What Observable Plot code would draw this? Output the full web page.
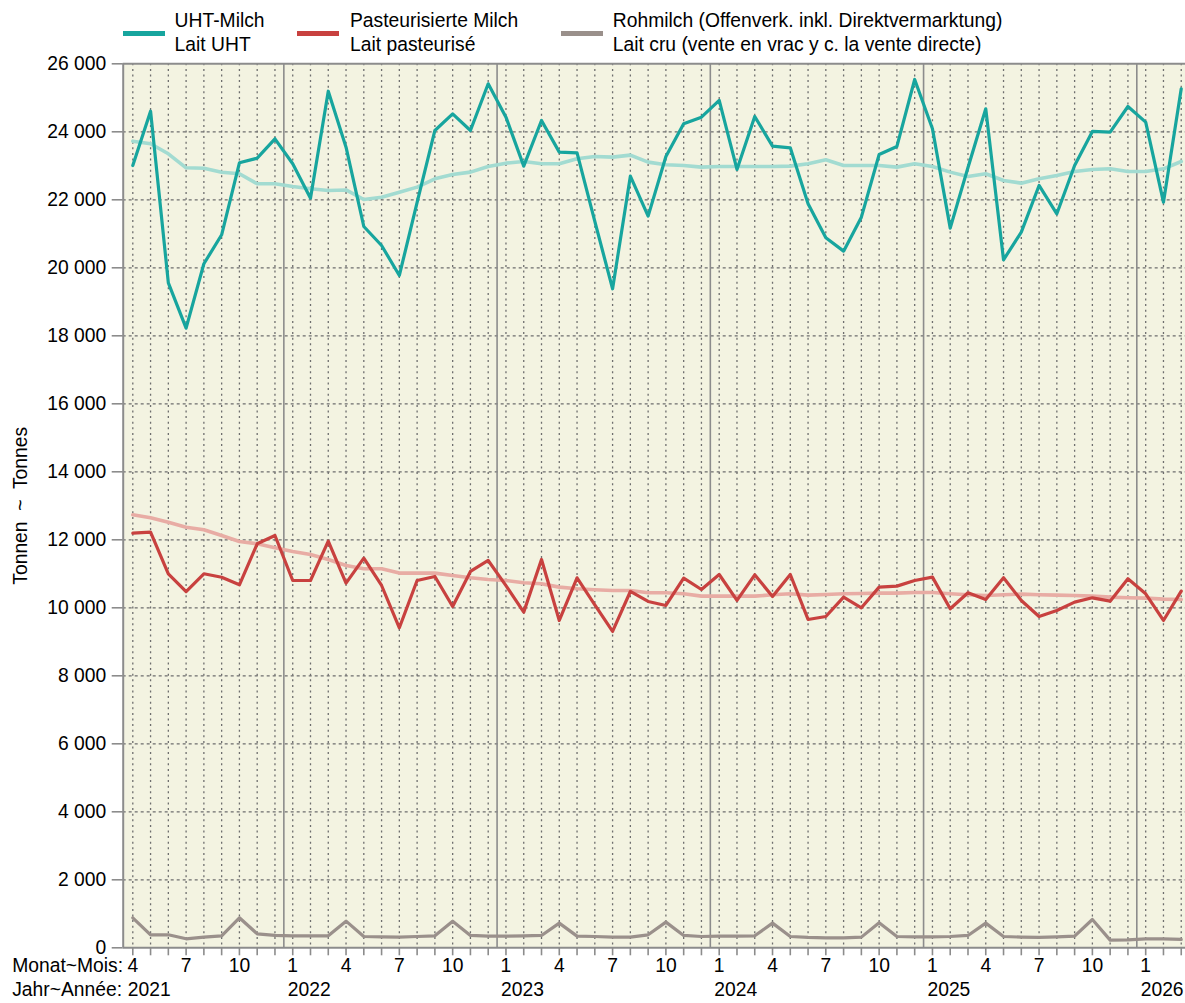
<!DOCTYPE html>
<html>
<head>
<meta charset="utf-8">
<script src="https://cdn.jsdelivr.net/npm/d3@7"></script>
<script src="https://cdn.jsdelivr.net/npm/@observablehq/plot@0.6"></script>
<style>
  html, body { margin: 0; padding: 0; background: #fff; }
  #wrap { position: relative; width: 1185px; height: 1003px; font-family: Arial, "Liberation Sans", sans-serif; color: #000; }
  #wrap svg { position: absolute; left: 0; top: 0; }
  .sw { position: absolute; height: 5.4px; width: 42px; }
  .lt { position: absolute; font-size: 19.3px; line-height: 24px; white-space: nowrap; }
</style>
</head>
<body>
<div id="wrap"></div>
<script>
// ---- Data (tonnes per month), April 2021 .. March 2026 ----
const startYear = 2021;
const startMonth = 4;

const seriesNames = [
  ["UHT-Milch", "Lait UHT"],
  ["Pasteurisierte Milch", "Lait pasteurisé"],
  ["Rohmilch (Offenverk. inkl. Direktvermarktung)", "Lait cru (vente en vrac y c. la vente directe)"]
];
const seriesColors = ["#17a59e", "#c8413f", "#9a908b"];
const trendColors = ["#a2dbd1", "#e8aca4"];

const uhtMilch = [23009, 24606, 19559, 18224, 20118, 20971, 23088, 23224, 23794, 23059, 22047, 25194,
  23547, 21215, 20656, 19775, 21926, 24039, 24529, 24039, 25412, 24431, 22990, 24333,
  23402, 23382, 21363, 19382, 22696, 21520, 23275, 24240, 24431, 24922, 22892, 24451,
  23578, 23529, 21882, 20882, 20490, 21490, 23333, 23569, 25539, 24088, 21167, 22950,
  24676, 20235, 21049, 22422, 21588, 23010, 24010, 23990, 24745, 24284, 21931, 25265];

const uhtTrend = [23724, 23647, 23353, 22941, 22930, 22812, 22765, 22471, 22471, 22391, 22324, 22274,
  22290, 22009, 22077, 22225, 22373, 22618, 22745, 22814, 22980, 23078, 23127, 23059,
  23059, 23206, 23275, 23255, 23314, 23108, 23029, 23010, 22961, 22980, 22980, 22980,
  22980, 22990, 23059, 23176, 23010, 23010, 23010, 22961, 23059, 22980, 22814, 22686,
  22765, 22569, 22490, 22618, 22716, 22833, 22892, 22912, 22833, 22833, 22912, 23127];

const pastMilch = [12194, 12224, 11000, 10479, 11000, 10900, 10676, 11882, 12126, 10803, 10803, 11959,
  10724, 11459, 10656, 9412, 10804, 10922, 10039, 11069, 11392, 10650, 9873, 11422,
  9627, 10882, 10088, 9304, 10480, 10186, 10069, 10873, 10539, 10980, 10216, 10971,
  10333, 10980, 9657, 9745, 10314, 10000, 10608, 10637, 10804, 10902, 9971, 10441,
  10245, 10882, 10216, 9745, 9922, 10167, 10294, 10196, 10853, 10412, 9627, 10490];

const pastTrend = [12735, 12647, 12518, 12371, 12294, 12126, 11950, 11882, 11765, 11656, 11568, 11421,
  11244, 11147, 11147, 11020, 11020, 11020, 10951, 10882, 10833, 10804, 10735, 10706,
  10608, 10559, 10529, 10510, 10510, 10441, 10441, 10412, 10343, 10343, 10343, 10343,
  10382, 10412, 10373, 10392, 10412, 10422, 10431, 10431, 10451, 10451, 10412, 10382,
  10363, 10382, 10402, 10382, 10373, 10363, 10343, 10314, 10294, 10284, 10255, 10245];

const rohMilch = [882, 382, 382, 265, 314, 353, 882, 412, 363, 353, 353, 353,
  784, 333, 324, 314, 333, 353, 784, 363, 343, 343, 353, 363,
  725, 343, 333, 314, 314, 382, 755, 363, 333, 343, 343, 353,
  725, 333, 304, 294, 294, 314, 735, 333, 324, 324, 333, 363,
  725, 333, 314, 304, 324, 343, 833, 225, 235, 265, 265, 245];

const yTicks = [0, 2000, 4000, 6000, 8000, 10000, 12000, 14000, 16000, 18000, 20000, 22000, 24000, 26000];
const labeledMonths = [1, 4, 7, 10];
const axisPrefixes = ["Monat~Mois:", "Jahr~Année:"];
const yTitle = "Tonnen  ~  Tonnes";

// ---- Derived ----
const periods = uhtMilch.map((_, i) => {
  const k = startMonth - 1 + i;
  return { i, month: (k % 12) + 1, year: startYear + Math.floor(k / 12) };
});
const idx = periods.map(p => p.i);
const monthLabelPeriods = periods.filter(p => labeledMonths.includes(p.month));
const yearLabelPeriods = periods.filter(p => p.i === 0 || p.month === 1);
const yearBreaks = periods.filter(p => p.month === 12).map(p => p.i + 0.5);
const xDomain = [-0.54, idx[idx.length - 1] + 0.24];
const fmt = d => d3.format(",")(d).replace(/,/g, " ");

const FS = 19.3;
const gridGray = "#6e6e6e";
const frameGray = "#8c8c8c";

const chart = Plot.plot({
  width: 1185,
  height: 1003,
  marginTop: 63.3,
  marginBottom: 55.7,
  marginLeft: 122.7,
  marginRight: 0,
  style: { fontFamily: 'Arial, "Liberation Sans", sans-serif', fontSize: FS + "px", color: "#000", background: "transparent", overflow: "visible" },
  x: { type: "linear", domain: xDomain, axis: null },
  y: { domain: [0, 26000], axis: null },
  marks: [
    Plot.frame({ fill: "#f3f3e1", stroke: null }),
    Plot.ruleX(idx, { stroke: gridGray, strokeWidth: 1.3, strokeDasharray: "2,3.6" }),
    Plot.ruleY(yTicks.slice(1, -1), { stroke: gridGray, strokeWidth: 1.3, strokeDasharray: "3,3" }),
    Plot.ruleX(yearBreaks, { stroke: frameGray, strokeWidth: 1.6 }),
    Plot.ruleY([yTicks[0], yTicks[yTicks.length - 1]], { stroke: frameGray, strokeWidth: 2 }),
    Plot.ruleX([xDomain[0]], { stroke: frameGray, strokeWidth: 2 }),
    // trend lines
    Plot.line(uhtTrend, { x: (d, i) => i, y: d => d, stroke: trendColors[0], strokeWidth: 3.6 }),
    Plot.line(pastTrend, { x: (d, i) => i, y: d => d, stroke: trendColors[1], strokeWidth: 3.6 }),
    // series
    Plot.line(rohMilch, { x: (d, i) => i, y: d => d, stroke: seriesColors[2], strokeWidth: 3.2 }),
    Plot.line(pastMilch, { x: (d, i) => i, y: d => d, stroke: seriesColors[1], strokeWidth: 3.2 }),
    Plot.line(uhtMilch, { x: (d, i) => i, y: d => d, stroke: seriesColors[0], strokeWidth: 3.2 }),
    // axes
    Plot.axisY({ ticks: yTicks, tickSize: 11, tickPadding: 6, tickFormat: fmt, stroke: frameGray, strokeWidth: 1.6, fill: "#000", label: null, fontSize: FS }),
    Plot.axisX({ ticks: idx, tickSize: 8, tickFormat: () => "", stroke: frameGray, strokeWidth: 1.6, label: null }),
    Plot.text(monthLabelPeriods, { x: "i", text: d => String(d.month), frameAnchor: "bottom", dy: 24.5, fontSize: FS, fill: "#000" }),
    Plot.text(yearLabelPeriods, { x: "i", text: d => String(d.year), frameAnchor: "bottom", dy: 48, dx: -5, textAnchor: "start", fontSize: FS, fill: "#000" }),
    Plot.text([axisPrefixes[0]], { frameAnchor: "bottom-left", dx: -111, dy: 24.5, textAnchor: "start", fontSize: FS, fill: "#000" }),
    Plot.text([axisPrefixes[1]], { frameAnchor: "bottom-left", dx: -111, dy: 48, textAnchor: "start", fontSize: FS, fill: "#000" }),
    Plot.text([yTitle], { frameAnchor: "left", dx: -102, rotate: -90, fontSize: FS, fill: "#000", textAnchor: "middle", style: "white-space:pre" })
  ]
});

const wrap = document.getElementById("wrap");
wrap.appendChild(chart);

// ---- Legend (HTML, above the plot area) ----
const swX = [122.8, 297.4, 561];
const txX = [174.6, 350, 612.8];
seriesNames.forEach((names, k) => {
  const sw = document.createElement("div");
  sw.className = "sw";
  sw.style.left = swX[k] + "px";
  sw.style.top = (33.3 - 2.7) + "px";
  sw.style.background = seriesColors[k];
  wrap.appendChild(sw);
  const t = document.createElement("div");
  t.className = "lt";
  t.style.left = txX[k] + "px";
  t.style.top = "9px";
  t.innerHTML = names.map(n => `<div>${n}</div>`).join("");
  wrap.appendChild(t);
});
</script>
</body>
</html>
